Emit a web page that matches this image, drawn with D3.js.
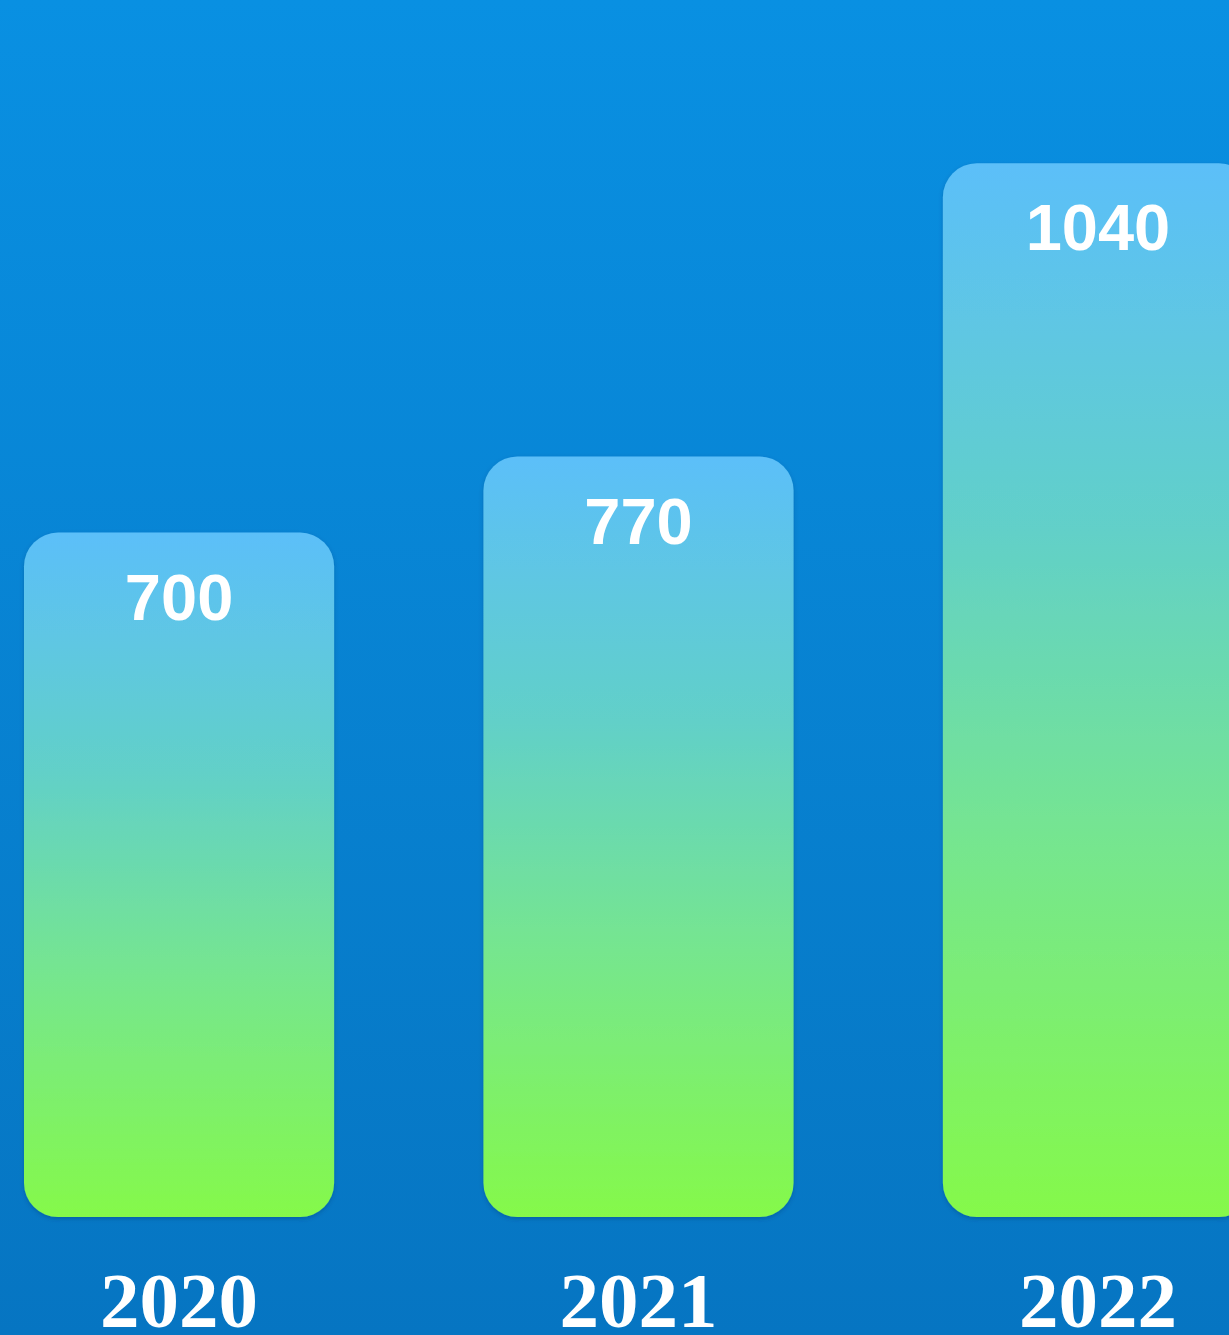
<!DOCTYPE html>
<html>
<head>
<meta charset="utf-8">
<script src="https://cdn.jsdelivr.net/npm/d3@7"></script>
<style>
  html, body { margin: 0; padding: 0; background: #0a86d4; }
  svg { display: block; }
</style>
</head>
<body>
<div id="chart"></div>
<script>
// Yearly totals
const years = ["2020", "2021", "2022"];
const values = [700, 770, 1040];

const W = 1229, H = 1335;

const svg = d3.select("#chart").append("svg")
  .attr("width", W).attr("height", H);

const defs = svg.append("defs");

// Background: deep blue, slightly darker toward the bottom
const bg = defs.append("linearGradient").attr("id", "bg")
  .attr("x1", 0).attr("y1", 0).attr("x2", 0).attr("y2", 1);
bg.append("stop").attr("offset", "0%").attr("stop-color", "#0990e2");
bg.append("stop").attr("offset", "100%").attr("stop-color", "#0675c2");

// Bar fill: sky blue at the top fading into lime green at the base
const barGrad = defs.append("linearGradient").attr("id", "barGrad")
  .attr("x1", 0).attr("y1", 0).attr("x2", 0).attr("y2", 1);
barGrad.append("stop").attr("offset", "0%").attr("stop-color", "#5bbff9");
barGrad.append("stop").attr("offset", "35%").attr("stop-color", "#62d0c8");
barGrad.append("stop").attr("offset", "65%").attr("stop-color", "#76e68e");
barGrad.append("stop").attr("offset", "100%").attr("stop-color", "#85f94a");

// Soft shadow under each bar
const shadow = defs.append("filter").attr("id", "shadow")
  .attr("x", "-10%").attr("y", "-10%").attr("width", "120%").attr("height", "120%");
shadow.append("feDropShadow")
  .attr("dx", 0).attr("dy", 2).attr("stdDeviation", 2)
  .attr("flood-color", "#003a70").attr("flood-opacity", 0.35);

svg.append("rect").attr("width", W).attr("height", H).attr("fill", "url(#bg)");

const x = d3.scaleBand()
  .domain(years)
  .range([24, 1253])
  .paddingInner(0.325)
  .paddingOuter(0);

const y = d3.scaleLinear()
  .domain([70, 1100])
  .range([1217, 98]);

const data = years.map((yr, i) => ({ year: yr, value: values[i] }));

const g = svg.append("g");

const bars = g.selectAll("g.bar").data(data).join("g").attr("class", "bar");

bars.append("rect")
  .attr("x", d => x(d.year))
  .attr("y", d => y(d.value))
  .attr("width", x.bandwidth())
  .attr("height", d => y.range()[0] - y(d.value))
  .attr("rx", 34).attr("ry", 34)
  .attr("fill", "url(#barGrad)")
  .attr("filter", "url(#shadow)");

// Value labels inside the top of each bar
bars.append("text")
  .attr("x", d => x(d.year) + x.bandwidth() / 2)
  .attr("y", d => y(d.value) + 87)
  .attr("text-anchor", "middle")
  .attr("fill", "#ffffff")
  .style("font-family", "'Liberation Sans', Arial, Helvetica, sans-serif")
  .style("font-weight", "bold")
  .style("font-size", "65px")
  .text(d => d.value);

// Year labels under the bars
const axis = d3.axisBottom(x).tickSize(0).tickPadding(0);
const ax = svg.append("g")
  .attr("transform", `translate(0, 1327)`)
  .call(axis);
ax.select(".domain").remove();
ax.selectAll("text")
  .attr("dy", 0)
  .attr("y", 0)
  .attr("fill", "#ffffff")
  .style("font-family", "'Liberation Serif', 'Times New Roman', serif")
  .style("font-weight", "bold")
  .style("font-size", "79px");
</script>
</body>
</html>
